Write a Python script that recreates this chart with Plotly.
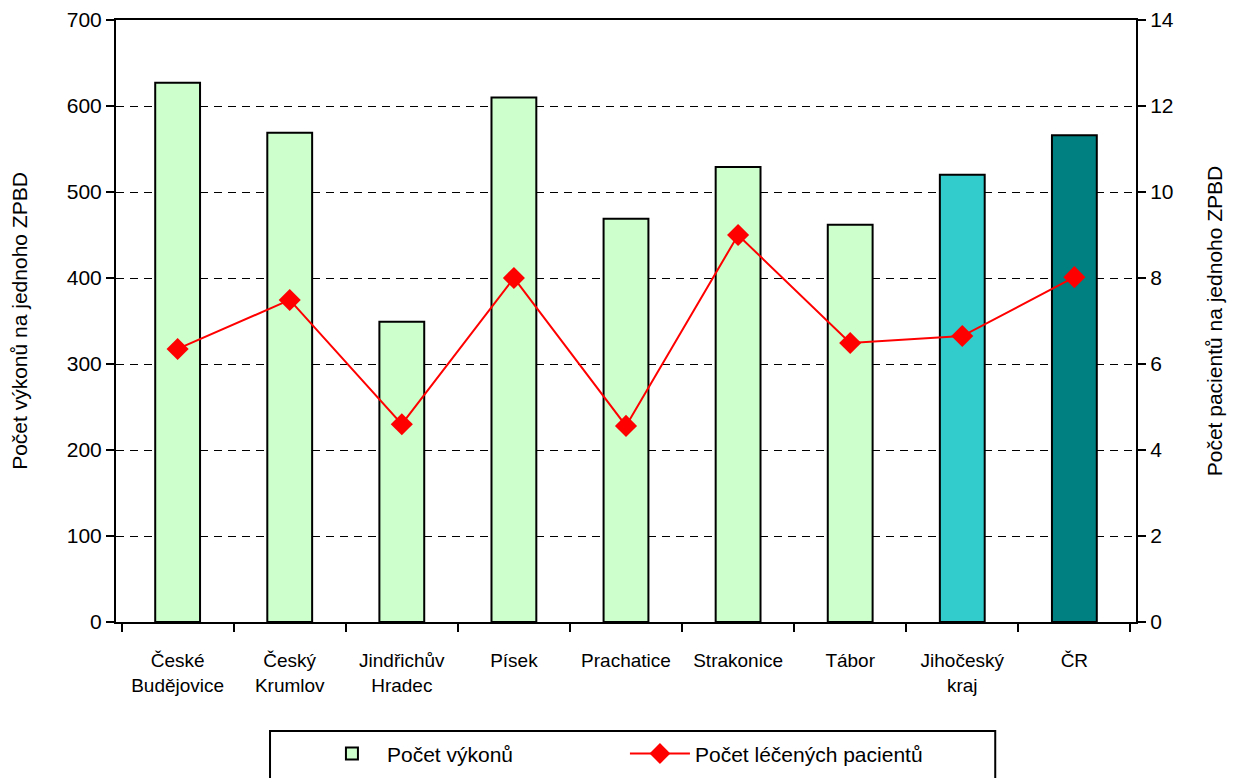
import plotly.graph_objects as go

categories = ["České<br>Budějovice", "Český<br>Krumlov", "Jindřichův<br>Hradec", "Písek",
              "Prachatice", "Strakonice", "Tábor", "Jihočeský<br>kraj", "ČR"]
vykony = [627, 569, 349, 610, 469, 529, 462, 520, 566]
pacienti = [6.35, 7.49, 4.6, 8.0, 4.56, 9.0, 6.49, 6.65, 8.02]
bar_colors = ["#CCFFCC"] * 7 + ["#33CCCC", "#008080"]
left_ticks = [0, 100, 200, 300, 400, 500, 600, 700]
right_ticks = [0, 2, 4, 6, 8, 10, 12, 14]

FONT = "Liberation Sans Narrow, Arial Narrow, Liberation Sans, Arial"

fig = go.Figure()
fig.add_trace(go.Bar(
    x=categories, y=vykony, name="Počet výkonů",
    marker=dict(color=bar_colors, line=dict(color="black", width=2)),
    width=0.4,
))
fig.add_trace(go.Scatter(
    x=categories, y=pacienti, name="Počet léčených pacientů", yaxis="y2",
    mode="lines+markers",
    line=dict(color="#FF0000", width=2),
    marker=dict(symbol="diamond", size=17, color="#FF0000"),
))

# legend frame (wider than the entries, as in the reference)
fig.add_shape(type="rect", xref="paper", yref="paper",
              x0=0.151, x1=0.862, y0=-0.181, y1=-0.30,
              line=dict(color="black", width=2), fillcolor="white", layer="below")

# the page body has an 8px margin, so the figure is shrunk by 8px to fit the window
fig.update_layout(
    width=1230, height=770,
    margin=dict(l=108, r=102, t=12, b=156),
    paper_bgcolor="white", plot_bgcolor="white",
    font=dict(family=FONT, size=21, color="black"),
    showlegend=True,
    legend=dict(
        orientation="h", x=0.197, xanchor="left",
        yref="container", y=0.058, yanchor="top",
        borderwidth=0, bgcolor="rgba(0,0,0,0)",
        font=dict(size=21), entrywidth=233, itemwidth=60,
    ),
    xaxis=dict(
        showline=True, linecolor="black", linewidth=2, mirror=True,
        ticks="outside", tickson="boundaries", ticklen=8, tickwidth=2, tickcolor="black",
        tickfont=dict(size=19), tickangle=0, showgrid=False, automargin=False,
        ticklabelstandoff=20,
    ),
    yaxis=dict(
        range=[0, 700], tickvals=left_ticks, showline=True, linecolor="black", linewidth=2,
        ticks="outside", ticklen=8, tickwidth=2, tickcolor="black",
        showgrid=True, gridcolor="black", gridwidth=1, griddash="8px,6px",
        zeroline=False, tickfont=dict(size=21), automargin=False,
        title=dict(text="Počet výkonů na jednoho ZPBD", font=dict(size=21), standoff=40),
    ),
    yaxis2=dict(
        range=[0, 14], tickvals=right_ticks, overlaying="y", side="right",
        showline=True, linecolor="black", linewidth=2,
        ticks="outside", ticklen=8, tickwidth=2, tickcolor="black",
        showgrid=False, zeroline=False, tickfont=dict(size=21), automargin=False,
        title=dict(text="Počet pacientů na jednoho ZPBD", font=dict(size=21), standoff=34),
    ),
)

fig.write_html("out.html")
